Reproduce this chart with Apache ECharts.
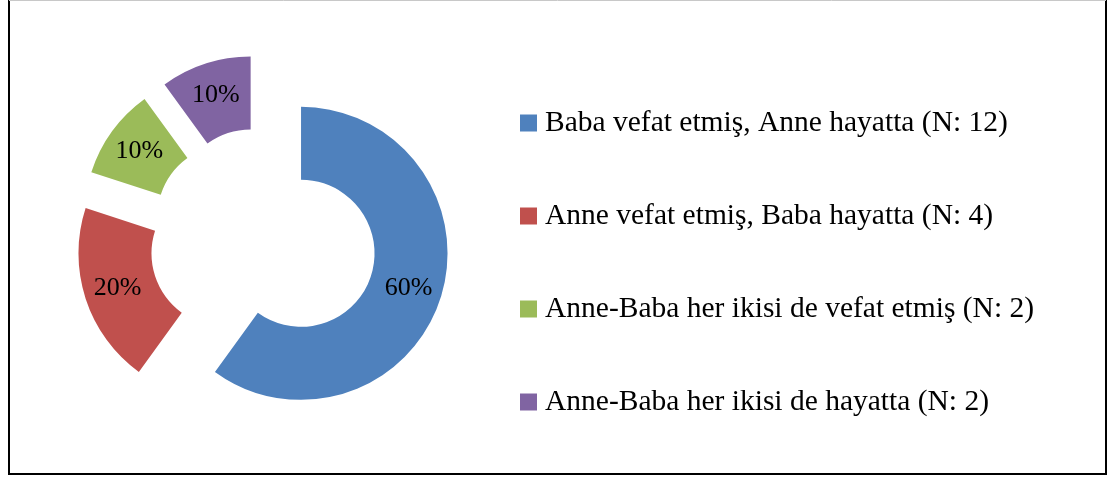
<!DOCTYPE html>
<html>
<head>
<meta charset="utf-8">
<script src="https://cdn.jsdelivr.net/npm/echarts@6/dist/echarts.min.js"></script>
<style>
  html, body { margin: 0; padding: 0; background: #fff; }
  #chart { width: 1109px; height: 477px; }
</style>
</head>
<body>
<div id="chart"></div>
<script>
// kategoriler ve kişi sayıları
const categories = [
  'Baba vefat etmiş, Anne hayatta (N: 12)',
  'Anne vefat etmiş, Baba hayatta (N: 4)',
  'Anne-Baba her ikisi de vefat etmiş (N: 2)',
  'Anne-Baba her ikisi de hayatta (N: 2)'
]
const counts = [12, 4, 2, 2]
const colors = ['#4F81BD', '#C0504D', '#9BBB59', '#8064A2']

const font = '"Liberation Serif", "Times New Roman", serif'

const chart = echarts.init(document.getElementById('chart'), null, { renderer: 'canvas' })

chart.setOption({
  animation: false,
  color: colors,
  legend: {
    orient: 'vertical',
    left: 520,
    top: 108,
    padding: 0,
    itemWidth: 17,
    itemHeight: 17,
    itemGap: 63,
    icon: 'rect',
    selectedMode: false,
    textStyle: { fontFamily: font, fontSize: 29.5, color: '#000', lineHeight: 30, padding: [0, 0, 0, 3] },
    data: categories
  },
  graphic: [
    {
      type: 'rect',
      shape: { x: 9, y: -2, width: 1097, height: 476 },
      style: { fill: 'none', stroke: '#000', lineWidth: 2 }
    },
    {
      type: 'line',
      shape: { x1: 9, y1: 0.5, x2: 1106, y2: 0.5 },
      style: { stroke: '#c8c8c8', lineWidth: 1 }
    }
  ],
  series: [
    {
      type: 'pie',
      center: [263, 241],
      radius: [73.5, 146.5],
      startAngle: 90,
      clockwise: true,
      selectedMode: 'multiple',
      selectedOffset: 40,
      percentPrecision: 0,
      label: {
        show: true,
        position: 'inside',
        formatter: '{d}%',
        fontFamily: font,
        fontSize: 26,
        color: '#000'
      },
      labelLine: { show: false },
      itemStyle: { borderWidth: 0 },
      select: { itemStyle: { borderWidth: 0 } },
      emphasis: { disabled: true },
      data: categories.map((name, i) => ({ name, value: counts[i], selected: true }))
    }
  ]
})
</script>
</body>
</html>
